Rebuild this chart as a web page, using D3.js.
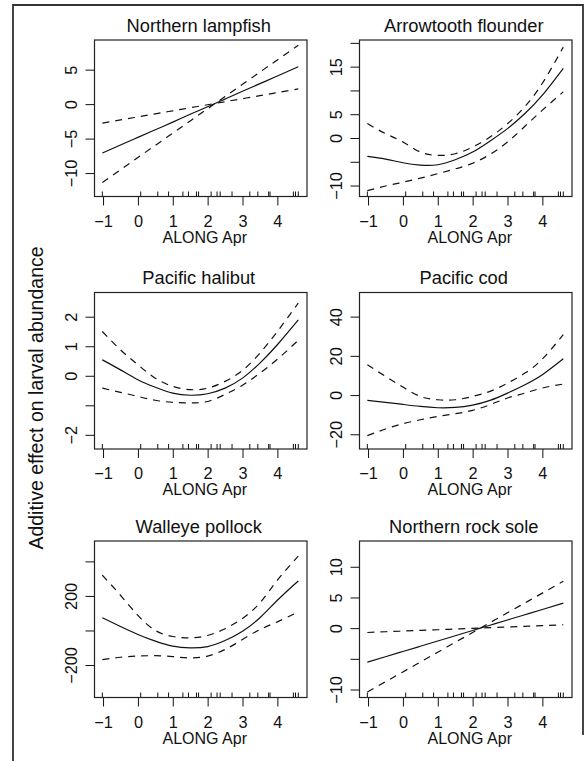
<!DOCTYPE html>
<html>
<head>
<meta charset="utf-8">
<script src="https://cdn.jsdelivr.net/npm/d3@7"></script>
<style>
  body { margin: 0; background: #fff; }
  svg text { font-family: "Liberation Sans", Arial, Helvetica, sans-serif; fill: #111; }
</style>
</head>
<body>
<svg id="chart" width="588" height="761"></svg>
<script>
// x grid shared by all smooths (ALONG Apr)
const xGrid = [-1.02, -0.5, 0, 0.5, 1, 1.5, 2, 2.5, 3, 3.5, 4, 4.6];
// rug of observed ALONG values
const rugX = [-1.02, 0.08, 0.57, 0.88, 1.29, 1.45, 1.68, 1.74, 2.10, 2.27, 2.36, 2.70, 3.21, 3.44, 3.75, 3.79, 4.46, 4.52, 4.60];
const xTicks = [-1, 0, 1, 2, 3, 4];

const species = ["Northern lampfish", "Arrowtooth flounder", "Pacific halibut",
                 "Pacific cod", "Walleye pollock", "Northern rock sole"];

// Northern lampfish
const lampfishFit = [-7.1, -5.94, -4.83, -3.72, -2.61, -1.48, -0.38, 0.73, 1.86, 2.97, 4.08, 5.42];
const lampfishUp  = [-2.75, -2.29, -1.85, -1.41, -0.97, -0.53, -0.09, 0.35, 0.79, 1.23, 1.67, 2.2];
const lampfishLo  = [-11.36, -9.52, -7.75, -5.98, -4.21, -2.44, -0.67, 1.10, 2.87, 4.64, 6.41, 8.53];
const lampfishTicks = [-10, -5, 0, 5];
const lampfishLabels = [-10, -5, 0, 5];

// Arrowtooth flounder
const arrowFit = [-3.87, -4.44, -5.2, -5.7, -5.63, -4.58, -2.96, -0.63, 1.97, 5.14, 9.0, 14.65];
const arrowUp  = [3.03, 0.92, -0.85, -2.96, -3.66, -3.31, -1.9, 0.2, 3.0, 6.6, 11.5, 19.1];
const arrowLo  = [-11.06, -10.1, -9.3, -8.45, -7.5, -6.5, -5.3, -3.45, -0.85, 2.46, 5.85, 9.7];
const arrowTicks = [-10, -5, 0, 5, 10, 15, 20];
const arrowLabels = [-10, 0, 5, 15];

// Pacific halibut
const halibutFit = [0.54, 0.2, -0.135, -0.39, -0.59, -0.66, -0.61, -0.42, -0.08, 0.43, 1.05, 1.89];
const halibutUp  = [1.5, 0.88, 0.37, -0.08, -0.36, -0.47, -0.42, -0.19, 0.18, 0.77, 1.5, 2.46];
const halibutLo  = [-0.42, -0.56, -0.70, -0.83, -0.9, -0.92, -0.87, -0.63, -0.32, 0.09, 0.56, 1.2];
const halibutTicks = [-2, -1, 0, 1, 2];
const halibutLabels = [-2, 0, 1, 2];

// Pacific cod
const codFit = [-2.7, -3.7, -4.76, -5.8, -6.46, -6.3, -5.1, -2.7, 1.0, 5.3, 10.4, 18.5];
const codUp  = [15.5, 9.5, 4.1, -0.7, -2.4, -2.4, -0.7, 1.9, 6.1, 11.2, 18.4, 30.8];
const codLo  = [-20.7, -17.3, -14.6, -12.6, -10.9, -9.5, -7.8, -4.9, -1.5, 1.0, 3.6, 5.6];
const codTicks = [-20, 0, 20, 40];
const codLabels = [-20, 0, 20, 40];

// Walleye pollock
const pollockFit = [74, 23, -23, -62, -91, -101, -93, -58, -4, 74, 175, 287];
const pollockUp  = [320, 204, 87, 0, -35, -43, -29, 10, 70, 160, 291, 431];
const pollockLo  = [-169, -155, -148, -146, -151, -159, -148, -110, -52, 5, 50, 107];
const pollockTicks = [-200, 0, 200, 400];
const pollockLabels = [-200, 200];

// Northern rock sole
const rocksoleFit = [-5.55, -4.66, -3.80, -2.95, -2.09, -1.24, -0.38, 0.48, 1.33, 2.19, 3.04, 4.07];
const rocksoleUp  = [-0.71, -0.59, -0.48, -0.37, -0.26, -0.15, -0.03, 0.08, 0.19, 0.30, 0.41, 0.55];
const rocksoleLo  = [-10.4, -8.73, -7.13, -5.52, -3.92, -2.31, -0.71, 0.90, 2.50, 4.11, 5.71, 7.64];
const rocksoleTicks = [-10, -5, 0, 5, 10];
const rocksoleLabels = [-10, 0, 5, 10];

const panels = [
  { fit: lampfishFit, up: lampfishUp, lo: lampfishLo, ticks: lampfishTicks, labels: lampfishLabels, ylim: [-13.4, 9.3] },
  { fit: arrowFit,    up: arrowUp,    lo: arrowLo,    ticks: arrowTicks,    labels: arrowLabels,    ylim: [-12.3, 20.6] },
  { fit: halibutFit,  up: halibutUp,  lo: halibutLo,  ticks: halibutTicks,  labels: halibutLabels,  ylim: [-2.48, 2.82] },
  { fit: codFit,      up: codUp,      lo: codLo,      ticks: codTicks,      labels: codLabels,      ylim: [-27.5, 52.3] },
  { fit: pollockFit,  up: pollockUp,  lo: pollockLo,  ticks: pollockTicks,  labels: pollockLabels,  ylim: [-388, 518] },
  { fit: rocksoleFit, up: rocksoleUp, lo: rocksoleLo, ticks: rocksoleTicks, labels: rocksoleLabels, ylim: [-11.3, 14.2] },
];

const svg = d3.select("#chart");
svg.append("rect").attr("width", 588).attr("height", 761).attr("fill", "#fff");

// outer frame (cropped at the bottom)
svg.append("path")
  .attr("d", "M13,761 L13,5 L583,5 L583,735")
  .attr("fill", "none").attr("stroke", "#333").attr("stroke-width", 1.8);

const colLeft = [94.5, 359.5];
const rowTop = [40, 292.5, 541];
const boxW = 212.5, boxH = 156.5;
const fmt = v => (v < 0 ? "\u2212" + Math.abs(v) : String(v));

panels.forEach((p, i) => {
  const left = colLeft[i % 2], top = rowTop[Math.floor(i / 2)];
  const g = svg.append("g").attr("transform", `translate(${left},${top})`);

  const x = d3.scaleLinear().domain([-1.245, 4.85]).range([0, boxW]);
  const y = d3.scaleLinear().domain(p.ylim).range([boxH, 0]);

  // x axis
  const xa = g.append("g").attr("transform", `translate(0,${boxH})`)
    .call(d3.axisBottom(x).tickValues(xTicks).tickSize(9).tickPadding(9.5).tickFormat(fmt));
  xa.select(".domain").remove();
  xa.selectAll("line").attr("stroke", "#111").attr("stroke-width", 1);
  xa.selectAll("text").attr("font-size", "16.3px").attr("fill", "#111");

  // y axis with rotated labels
  const ya = g.append("g")
    .call(d3.axisLeft(y).tickValues(p.ticks).tickSize(9)
      .tickFormat(v => (p.labels.includes(v) ? fmt(v) : "")));
  ya.select(".domain").remove();
  ya.selectAll("line").attr("stroke", "#111").attr("stroke-width", 1);
  ya.selectAll("text")
    .attr("transform", "rotate(-90)")
    .attr("x", 0).attr("y", -18).attr("dy", null)
    .attr("text-anchor", "middle")
    .attr("font-size", "16.3px").attr("fill", "#111");

  // rug
  g.append("g").selectAll("line").data(rugX).join("line")
    .attr("x1", d => x(d)).attr("x2", d => x(d))
    .attr("y1", boxH).attr("y2", boxH - 5)
    .attr("stroke", "#111").attr("stroke-width", 1);

  const line = d3.line().x((d, k) => x(xGrid[k])).y(d => y(d)).curve(d3.curveNatural);

  g.append("path").attr("d", line(p.fit))
    .attr("fill", "none").attr("stroke", "#111").attr("stroke-width", 1.2);
  [p.up, p.lo].forEach(s => {
    g.append("path").attr("d", line(s))
      .attr("fill", "none").attr("stroke", "#111").attr("stroke-width", 1.2)
      .attr("stroke-dasharray", "7,6");
  });

  // plot box
  g.append("rect").attr("width", boxW).attr("height", boxH)
    .attr("fill", "none").attr("stroke", "#222").attr("stroke-width", 1.2);

  // title and x label
  g.append("text").attr("x", boxW / 2 - 2).attr("y", -8.5)
    .attr("text-anchor", "middle").attr("font-size", "18.3px")
    .text(species[i]);
  g.append("text").attr("x", boxW / 2 + 4).attr("y", boxH + 46)
    .attr("text-anchor", "middle").attr("font-size", "16px")
    .text("ALONG Apr");
});

svg.append("text")
  .attr("transform", "translate(43,398) rotate(-90)")
  .attr("text-anchor", "middle").attr("font-size", "19.5px")
  .text("Additive effect on larval abundance");
</script>
</body>
</html>
